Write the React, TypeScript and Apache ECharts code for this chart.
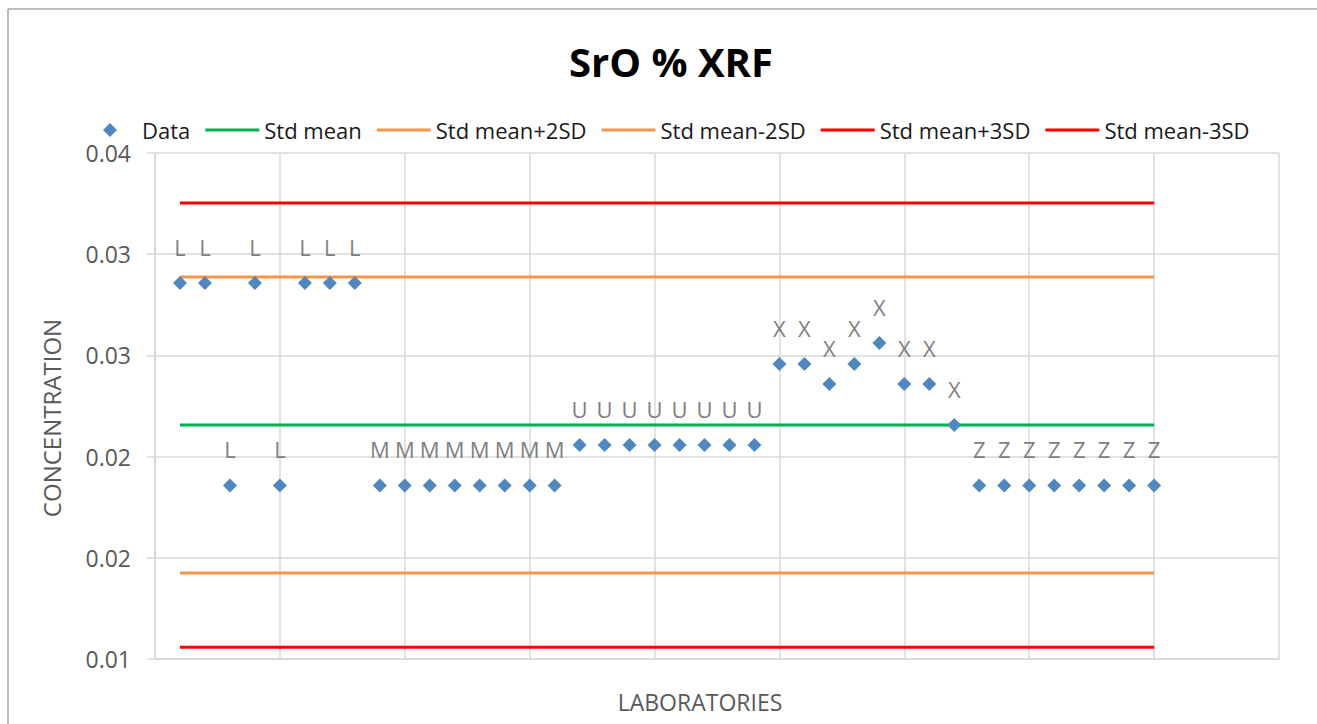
import React, { useEffect, useRef } from "react";
import * as echarts from "echarts";

// Laboratory codes (one per laboratory, in order along the x axis)
const labCodes = [
  "L", "L", "L", "L", "L", "L", "L", "L",
  "M", "M", "M", "M", "M", "M", "M", "M",
  "U", "U", "U", "U", "U", "U", "U", "U",
  "X", "X", "X", "X", "X", "X", "X", "X",
  "Z", "Z", "Z", "Z", "Z", "Z", "Z", "Z",
];

// SrO % concentrations
const concentrations = [
  0.03229, 0.03229, 0.02029, 0.03229, 0.02029, 0.03229, 0.03229, 0.03229,
  0.02029, 0.02029, 0.02029, 0.02029, 0.02029, 0.02029, 0.02029, 0.02029,
  0.02269, 0.02269, 0.02269, 0.02269, 0.02269, 0.02269, 0.02269, 0.02269,
  0.02749, 0.02749, 0.0263, 0.02749, 0.02874, 0.0263, 0.0263, 0.02387,
  0.02029, 0.02029, 0.02029, 0.02029, 0.02029, 0.02029, 0.02029, 0.02029,
];

// Reference lines
const refNames = ["Std mean", "Std mean+2SD", "Std mean-2SD", "Std mean+3SD", "Std mean-3SD"];
const refValues = [0.02387, 0.03265, 0.0151, 0.03704, 0.0107];
const refColors = ["#00B050", "#F79646", "#F79646", "#FF0000", "#FF0000"];

// Axis settings
const yMin = 0.01;
const yMax = 0.04;
const yInterval = 0.006;
const xMin = 0;
const xMax = 45;
const xInterval = 5;

const FONT = "'Open Sans', 'Noto Sans', sans-serif";

export default function App() {
  const ref = useRef<HTMLDivElement>(null);

  useEffect(() => {
    document.body.style.margin = "0";
    document.body.style.overflow = "hidden";
    document.documentElement.style.overflow = "hidden";
    if (!ref.current) return;
    const chart = echarts.init(ref.current, undefined, { renderer: "svg" });

    const firstX = 1;
    const lastX = labCodes.length;

    const scatterData = concentrations.map((v, i) => [i + 1, v]);

    const lineSeries = refNames.map((name, i) => ({
      name,
      type: "line",
      data: [
        [firstX, refValues[i]],
        [lastX, refValues[i]],
      ],
      symbol: "none",
      showSymbol: false,
      lineStyle: { color: refColors[i], width: 3 },
      itemStyle: { color: refColors[i] },
      z: 2,
      silent: true,
    }));

    chart.setOption({
      animation: false,
      backgroundColor: "#ffffff",
      textStyle: { fontFamily: FONT },
      title: {
        text: "SrO % XRF",
        left: 666,
        textAlign: "center",
        top: 32,
        textStyle: {
          fontFamily: FONT,
          fontSize: 40,
          fontWeight: "bold",
          color: "#000000",
          lineHeight: 48,
        },
      },
      graphic: [
        {
          type: "line",
          shape: { x1: 8, y1: 9, x2: 8, y2: 740 },
          style: { stroke: "#a6a6a6", lineWidth: 1.5 },
          silent: true,
        },
        {
          type: "line",
          shape: { x1: 8, y1: 9, x2: 1340, y2: 9 },
          style: { stroke: "#a6a6a6", lineWidth: 1.5 },
          silent: true,
        },
      ],
      legend: {
        top: 112,
        left: 98,
        itemWidth: 54,
        itemHeight: 14,
        itemGap: 15,
        symbolKeepAspect: true,
        textStyle: {
          fontFamily: FONT,
          fontSize: 22,
          color: "#1a1a1a",
          lineHeight: 26,
        },
        data: [
          { name: "Data", icon: "path://M7 0L14 7L7 14L0 7Z" },
          ...refNames.map((n) => ({ name: n, icon: "path://M0 0H54V3H0Z" })),
        ],
      },
      grid: {
        left: 155,
        width: 1124,
        top: 153,
        height: 506,
        containLabel: false,
      },
      xAxis: {
        type: "value",
        min: xMin,
        max: xMax,
        interval: xInterval,
        name: "LABORATORIES",
        nameLocation: "middle",
        nameGap: 31,
        nameTextStyle: {
          fontFamily: FONT,
          fontSize: 23,
          color: "#595959",
          padding: [0, 34, 0, 0],
        },
        axisLine: { show: true, lineStyle: { color: "#d9d9d9", width: 2 } },
        axisTick: { show: false },
        axisLabel: { show: false },
        splitLine: { show: true, lineStyle: { color: "#d9d9d9", width: 1.5 } },
      },
      yAxis: {
        type: "value",
        min: yMin,
        max: yMax,
        interval: yInterval,
        name: "CONCENTRATION",
        nameLocation: "middle",
        nameRotate: 90,
        nameGap: 92,
        nameTextStyle: {
          fontFamily: FONT,
          fontSize: 24,
          color: "#595959",
          padding: [0, 24, 0, 0],
        },
        axisLine: { show: true, lineStyle: { color: "#d9d9d9", width: 2 } },
        axisTick: { show: true, inside: false, length: 8, lineStyle: { color: "#d9d9d9", width: 1.5 } },
        axisLabel: {
          fontFamily: FONT,
          fontSize: 23,
          color: "#595959",
          margin: 24,
          formatter: (v: number) => v.toFixed(2),
        },
        splitLine: { show: true, lineStyle: { color: "#d9d9d9", width: 1.5 } },
      },
      series: [
        {
          name: "Data",
          type: "scatter",
          data: scatterData,
          symbol: "diamond",
          symbolSize: 14,
          itemStyle: { color: "#4F87BE", opacity: 1 },
          z: 5,
          label: {
            show: true,
            position: "top",
            distance: 18,
            fontFamily: FONT,
            fontSize: 22,
            color: "#7f7f7f",
            formatter: (p: any) => labCodes[p.dataIndex],
          },
          labelLayout: { hideOverlap: false },
        },
        ...lineSeries,
      ],
    });

    return () => {
      chart.dispose();
    };
  }, []);

  return (
    <div
      ref={ref}
      style={{ position: "fixed", left: 0, top: 0, width: 1340, height: 740 }}
    />
  );
}
